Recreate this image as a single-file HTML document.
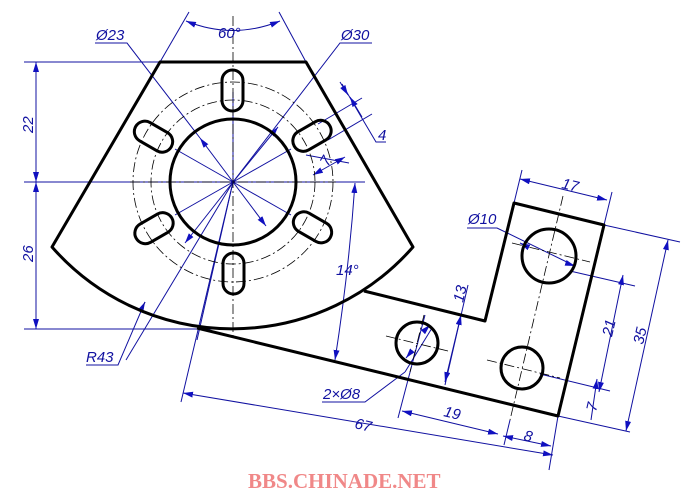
<!DOCTYPE html>
<html><head><meta charset="utf-8"><style>
html,body{margin:0;padding:0;background:#fff;}
svg{display:block}
.t{font-family:"Liberation Sans",sans-serif;font-style:italic;fill:#1010a0;font-size:15px}
</style></head><body>
<svg width="692" height="501" viewBox="0 0 692 501" xmlns="http://www.w3.org/2000/svg">
<defs>
<marker id="a" viewBox="0 0 10 6" refX="10" refY="3" markerWidth="10" markerHeight="6" orient="auto-start-reverse" markerUnits="userSpaceOnUse"><path d="M0,0L10,3L0,6z" fill="#1010c0"/></marker>
</defs>
<g stroke="#1010a0" stroke-width="1" fill="none">
<line x1="24" y1="62" x2="160" y2="62"/>
<line x1="24" y1="182" x2="365" y2="182"/>
<line x1="24" y1="329" x2="233" y2="329"/>
<line x1="36" y1="62" x2="36" y2="182" marker-start="url(#a)" marker-end="url(#a)"/>
<line x1="36" y1="182" x2="36" y2="329" marker-start="url(#a)" marker-end="url(#a)"/>
<line x1="160" y1="62" x2="189" y2="12"/>
<line x1="306" y1="62" x2="279" y2="12"/>
<path d="M186,21 Q233,40 280,21" marker-start="url(#a)" marker-end="url(#a)"/>
<polyline points="95,43 127,43 200,138"/>
<polyline points="372,43 340,43 233,182"/>
<line x1="233" y1="182" x2="200" y2="138" marker-end="url(#a)"/>
<line x1="233" y1="182" x2="266" y2="226" marker-end="url(#a)"/>
<line x1="233" y1="182" x2="278" y2="127" marker-end="url(#a)"/>
<line x1="233" y1="182" x2="185" y2="243" marker-end="url(#a)"/>
<line x1="233" y1="182" x2="175" y2="149"/>
<line x1="233" y1="182" x2="291" y2="215"/>
<line x1="233" y1="182" x2="291" y2="149"/>
<line x1="233" y1="182" x2="175" y2="215"/>
<line x1="233" y1="182" x2="197" y2="340"/>
<line x1="233" y1="182" x2="181" y2="402"/>
<line x1="233" y1="182" x2="126" y2="360"/>
<line x1="233" y1="92" x2="233" y2="182"/>
<line x1="145" y1="302" x2="142" y2="308" marker-start="url(#a)"/>
<polyline points="86,365 118,365 145,302"/>
<line x1="318" y1="124" x2="362" y2="98"/>
<line x1="328" y1="140" x2="372" y2="114"/>
<line x1="342" y1="84" x2="363" y2="120" />
<line x1="350" y1="97" x2="362" y2="117" marker-start="url(#a)"/>
<line x1="340" y1="82" x2="348" y2="95" marker-end="url(#a)"/>
<polyline points="363,120 376,142 386,142"/>
<line x1="313" y1="175" x2="345" y2="157" marker-start="url(#a)" marker-end="url(#a)"/>
<line x1="306" y1="155" x2="349" y2="163"/>
<path d="M355,183 Q349,270 335,360" marker-start="url(#a)" marker-end="url(#a)"/>
<line x1="183" y1="393" x2="553" y2="455" marker-start="url(#a)" marker-end="url(#a)"/>
<line x1="558" y1="416" x2="549" y2="470"/>
<line x1="402" y1="411" x2="498" y2="434" marker-start="url(#a)" marker-end="url(#a)"/>
<line x1="503" y1="436" x2="551" y2="446" marker-start="url(#a)" marker-end="url(#a)"/>
<line x1="425" y1="315" x2="398" y2="418"/>
<line x1="468" y1="285" x2="445" y2="385"/>
<line x1="461" y1="315" x2="445" y2="382" marker-start="url(#a)" marker-end="url(#a)"/>
<polyline points="322,402 365,402 405,372"/>
<line x1="405" y1="372" x2="432" y2="328"/>
<line x1="406" y1="358" x2="411" y2="352" marker-start="url(#a)"/>
<line x1="425" y1="330" x2="430" y2="325" marker-end="url(#a)"/>
<line x1="514" y1="203" x2="522" y2="170"/>
<line x1="604" y1="225" x2="612" y2="192"/>
<line x1="520" y1="179" x2="607" y2="200" marker-start="url(#a)" marker-end="url(#a)"/>
<polyline points="467,228 497,228 575,266"/>
<line x1="520" y1="243" x2="528" y2="247" marker-start="url(#a)"/>
<line x1="566" y1="263" x2="575" y2="266" marker-end="url(#a)"/>
<line x1="604" y1="225" x2="680" y2="242"/>
<line x1="570" y1="271" x2="635" y2="286"/>
<line x1="540" y1="374" x2="610" y2="391"/>
<line x1="558" y1="416" x2="630" y2="432"/>
<line x1="623" y1="275" x2="599" y2="392" marker-start="url(#a)" marker-end="url(#a)"/>
<line x1="597" y1="379" x2="591" y2="420" marker-start="url(#a)"/>
<line x1="668" y1="240" x2="626" y2="431" marker-start="url(#a)" marker-end="url(#a)"/>
<line x1="510" y1="420" x2="504" y2="445"/>
</g>
<g stroke="#000" stroke-width="0.8" fill="none" stroke-dasharray="10,3,2,3">
<circle cx="233" cy="182" r="82"/>
<circle cx="233" cy="182" r="100"/>
<line x1="233" y1="16" x2="233" y2="340"/>
<line x1="130" y1="182" x2="336" y2="182"/>
<line x1="563" y1="196" x2="510" y2="420"/>
<line x1="512" y1="243" x2="590" y2="262"/>
<line x1="487" y1="360" x2="560" y2="378"/>
<line x1="386" y1="336" x2="448" y2="351"/>
<line x1="424" y1="315" x2="410" y2="372"/>
</g>
<g stroke="#000" stroke-width="3" fill="none" stroke-linejoin="round">
<path d="M160,62 L306,62 L413,247 A240,240 0 0 1 52,247 Z"/>
<circle cx="233" cy="182" r="63"/>
<polyline points="197,328 558,416 604,225 514,203 485,321 364,291"/>
<circle cx="549" cy="256" r="27"/>
<circle cx="417" cy="343" r="21"/>
<circle cx="522" cy="368" r="21"/>
<g id="s"><rect x="222" y="70" width="21" height="41" rx="10.5"/></g>
<use href="#s" transform="rotate(60 233 182)"/>
<use href="#s" transform="rotate(120 233 182)"/>
<use href="#s" transform="rotate(180 233 182)"/>
<use href="#s" transform="rotate(240 233 182)"/>
<use href="#s" transform="rotate(300 233 182)"/>
</g>
<g class="t">
<text x="218" y="38">60°</text>
<text x="96" y="40">Ø23</text>
<text x="341" y="40">Ø30</text>
<text x="378" y="140">4</text>
<text x="0" y="0" transform="translate(33,133) rotate(-90)">22</text>
<text x="0" y="0" transform="translate(33,262) rotate(-90)">26</text>
<text x="0" y="0" transform="translate(328,167) rotate(-60)">7</text>
<text x="336" y="275">14°</text>
<text x="86" y="362">R43</text>
<text x="323" y="399">2×Ø8</text>
<text x="0" y="0" transform="translate(354,428) rotate(13.5)">67</text>
<text x="0" y="0" transform="translate(443,416) rotate(13.5)">19</text>
<text x="0" y="0" transform="translate(523,440) rotate(13.5)">8</text>
<text x="0" y="0" transform="translate(463,303) rotate(-77)">13</text>
<text x="0" y="0" transform="translate(561,188) rotate(13.5)">17</text>
<text x="468" y="224">Ø10</text>
<text x="0" y="0" transform="translate(612,337) rotate(-77)">21</text>
<text x="0" y="0" transform="translate(643,345) rotate(-77)">35</text>
<text x="0" y="0" transform="translate(596,412) rotate(-77)">7</text>
</g>
<text x="248" y="488" font-family="Liberation Serif,serif" font-weight="bold" font-size="21" fill="#f08888">BBS.CHINADE.NET</text>
</svg>
</body></html>
